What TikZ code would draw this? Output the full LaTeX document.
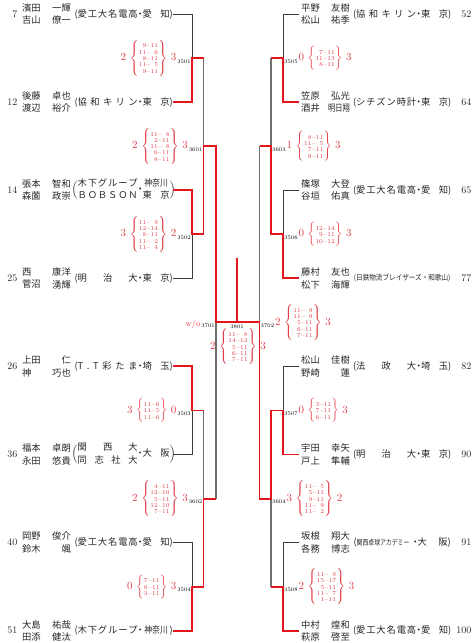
\documentclass[tikz,border=0pt]{standalone}
\usepackage{fontspec}
\usepackage{graphicx}
\newfontfamily\jp{Noto Sans CJK JP}
\definecolor{lnred}{RGB}{228,22,28}
\definecolor{txred}{RGB}{226,60,70}
\definecolor{lngray}{RGB}{110,110,110}
\definecolor{lndark}{RGB}{60,60,60}
\def\spreadloop#1{\ifx\relax#1\else#1\expandafter\spreadsep\fi}
\def\spreadsep#1{\ifx\relax#1\else\hfill#1\expandafter\spreadsep\fi}
\newcommand\spread[2]{\makebox[#1]{\spreadloop#2\relax}}
\newcommand\aff[2]{\makebox[99pt]{(\spread{60pt}{#1}\makebox[5pt]{・}\spread{27pt}{#2})}}
\newcommand\affK[2]{\makebox[99pt]{(\spread{60pt}{#1}\makebox[5pt]{・}\makebox[27pt]{\scalebox{0.85}[1]{#2}})}}
\newcommand\affTwo[4]{\makebox[99pt]{$\Big($\begin{tabular}{@{}l@{}}\spread{60pt}{#1}\\\spread{60pt}{#2}\end{tabular}\makebox[5pt]{・}\begin{tabular}{@{}l@{}}#3\\#4\end{tabular}$\Big)$}}
\newcommand\affTwoB[3]{\makebox[99pt]{$\Big($\begin{tabular}{@{}l@{}}\spread{60pt}{#1}\\\spread{60pt}{#2}\end{tabular}\makebox[5pt]{・}\spread{27pt}{#3}$\Big)$}}
\newcommand\scol[1]{\mbox{\fontsize{6}{6.3}\selectfont\begin{tabular}{@{}r@{\kern.4pt--\kern.4pt}r@{}}#1\end{tabular}}}
\newcommand\mnum[1]{{\fontsize{5.5}{6}\selectfont\color{black}#1}}
\newcommand\scoreblk[3]{$#1\kern1.8pt\left\{\kern.3pt\scol{#2}\kern.3pt\right\}\kern1.8pt#3$}
\newcommand\mL[4]{\scoreblk{#1}{#2}{#3}\kern1pt\raisebox{-2.5pt}{\mnum{#4}}}
\newcommand\mR[4]{\raisebox{-2.5pt}{\mnum{#4}}\kern1pt\scoreblk{#1}{#2}{#3}}
\newcommand\entL[5]{%
 \node[numtxt,anchor=east] (n#1) at (17.5,#2) {#1};
 \node[nametxt,anchor=west,align=left] (s#1) at (22,#2) {#3};
 \node[nametxt,anchor=east,align=right] (g#1) at (71,#2) {#4};
 \node[nametxt,anchor=west] (a#1) at (74,#2) {#5};}
\newcommand\entR[5]{%
 \node[nametxt,anchor=west,align=left] (s#1) at (301,#2) {#3};
 \node[nametxt,anchor=east,align=right] (g#1) at (350,#2) {#4};
 \node[nametxt,anchor=west] (a#1) at (352.5,#2) {#5};
 \node[numtxt,anchor=east] (n#1) at (471.5,#2) {#1};}
\begin{document}
\begin{tikzpicture}[x=1pt,y=-1pt,
 nametxt/.style={font=\jp\fontsize{9.3}{12.4}\selectfont,inner sep=0pt,text=black!85},
 numtxt/.style={font=\fontsize{10}{12}\selectfont,inner sep=0pt,text=black!85},
 mlab/.style={font=\fontsize{11}{12}\selectfont,inner sep=0pt,text=txred},
 redline/.style={draw=lnred,line width=1.9pt},
 gthin/.style={draw=lndark,line width=0.9pt},
 gthick/.style={draw=lngray,line width=1.4pt}]
\useasboundingbox (0,0) rectangle (476,643);
% junction coordinates
\coordinate (J3501) at (192,58.05);   \coordinate (K3501) at (203.5,58.05);
\coordinate (J3502) at (192,234.25);  \coordinate (K3502) at (203.5,234.25);
\coordinate (J3503) at (192,410.45);  \coordinate (K3503) at (203.5,410.45);
\coordinate (J3504) at (192,586.65);  \coordinate (K3504) at (203.5,586.65);
\coordinate (J3601) at (203.5,146.15); \coordinate (K3601) at (216,146.15);
\coordinate (J3602) at (203.5,498.55); \coordinate (K3602) at (216,498.55);
\coordinate (J3701) at (216,322.35);
\coordinate (F) at (237,322.35);
\coordinate (Top) at (237,258);
\coordinate (J3702) at (259.5,322.35);
\coordinate (J3505) at (283,58.05);   \coordinate (K3505) at (271,58.05);
\coordinate (J3506) at (283,234.25);  \coordinate (K3506) at (271,234.25);
\coordinate (J3507) at (283,410.45);  \coordinate (K3507) at (271,410.45);
\coordinate (J3508) at (283,586.65);  \coordinate (K3508) at (271,586.65);
\coordinate (J3603) at (271,146.15);  \coordinate (K3603) at (259.5,146.15);
\coordinate (J3604) at (271,498.55);  \coordinate (K3604) at (259.5,498.55);
% left entries
\entL{7}{14}{濱田\\吉山}{一輝\\僚一}{\aff{愛工大名電高}{愛知}}
\entL{12}{102.1}{後藤\\渡辺}{卓也\\裕介}{\aff{協和キリン}{東京}}
\entL{14}{190.2}{張本\\森薗}{智和\\政崇}{\affTwo{木下グループ}{ＢＯＢＳＯＮ}{\makebox[27pt]{\scalebox{0.85}[1]{神奈川}}}{\spread{27pt}{東京}}}
\entL{25}{278.3}{西\\菅沼}{康洋\\湧輝}{\aff{明治大}{東京}}
\entL{26}{366.4}{上田\\神}{仁\\巧也}{\aff{T.T彩たま}{埼玉}}
\entL{36}{454.5}{福本\\永田}{卓朗\\悠貴}{\affTwoB{関西大}{同志社大}{大阪}}
\entL{40}{542.6}{岡野\\鈴木}{俊介\\颯}{\aff{愛工大名電高}{愛知}}
\entL{51}{630.7}{大島\\田添}{祐哉\\健汰}{\affK{木下グループ}{神奈川}}
% right entries
\entR{52}{14}{平野\\松山}{友樹\\祐季}{\aff{協和キリン}{東京}}
\entR{64}{102.1}{笠原\\酒井}{弘光\\\scalebox{0.78}[1]{明日翔}}{\aff{シチズン時計}{東京}}
\entR{65}{190.2}{篠塚\\谷垣}{大登\\佑真}{\aff{愛工大名電高}{愛知}}
\entR{77}{278.3}{藤村\\松下}{友也\\海輝}{\makebox[99pt]{\fontsize{7.5}{8}\selectfont\scalebox{0.88}[1]{(日鉄物流ブレイザーズ・和歌山)}}}
\entR{82}{366.4}{松山\\野崎}{佳樹\\蓮}{\aff{法政大}{埼玉}}
\entR{90}{454.5}{宇田\\戸上}{幸矢\\隼輔}{\aff{明治大}{東京}}
\entR{91}{542.6}{坂根\\各務}{翔大\\博志}{\makebox[99pt]{(\makebox[56pt][l]{\fontsize{7.5}{8}\selectfont\scalebox{0.78}[1]{関西卓球アカデミー}}\makebox[5pt]{・}\spread{30pt}{大阪})}}
\entR{100}{630.7}{中村\\萩原}{煌和\\啓至}{\aff{愛工大名電高}{愛知}}
% grey lines
\draw[gthin] (a7.east) -| (J3501);
\draw[gthin] (a25.east) -| (J3502);
\draw[gthin] (a36.east) -| (J3503);
\draw[gthin] (a40.east) -| (J3504);
\draw[gthick] (K3501) -- (J3601);
\draw[gthick] (K3503) -- (J3602);
\draw[gthick] (K3602) -- (J3701);
\draw[gthin] ([xshift=-2pt]s52.west) -| (J3505);
\draw[gthin] ([xshift=-2pt]s65.west) -| (J3506);
\draw[gthin] ([xshift=-2pt]s82.west) -| (J3507);
\draw[gthin] ([xshift=-2pt]s91.west) -| (J3508);
\draw[gthick] (K3505) -- (J3603);
\draw[gthick] (K3603) -- (J3702);
\draw[gthick] (J3604) -- (K3508);
% red lines
\draw[redline] (a12.east) -| (J3501) -- (K3501);
\draw[redline] (a14.east) -| (J3502) -- (K3502) -- (J3601) -- (K3601) -- (J3701) -- (F);
\draw[redline] (a26.east) -| (J3503) -- (K3503);
\draw[redline] (a51.east) -| (J3504) -- (K3504) -- (J3602) -- (K3602);
\draw[redline] ([xshift=-2pt]s64.west) -| (J3505) -- (K3505);
\draw[redline] ([xshift=-2pt]s77.west) -| (J3506) -- (K3506) -- (J3603) -- (K3603);
\draw[redline] ([xshift=-2pt]s90.west) -| (J3507) -- (K3507) -- (J3604) -- (K3604) -- (J3702) -- (F) -- (Top);
\draw[redline] ([xshift=-2pt]s100.west) -| (J3508) -- (K3508);
% match labels left
\node[mlab,anchor=east] (m3501) at (191,58.05) {\mL{2}{9&11\\11&6\\8&11\\11&5\\9&11}{3}{3501}};
\node[mlab,anchor=east] (m3502) at (191,234.25) {\mL{3}{11&9\\12&14\\8&11\\11&2\\11&4}{2}{3502}};
\node[mlab,anchor=east] (m3503) at (191,410.45) {\mL{3}{11&6\\11&5\\11&6}{0}{3503}};
\node[mlab,anchor=east] (m3504) at (191,586.65) {\mL{0}{7&11\\8&11\\3&11}{3}{3504}};
\node[mlab,anchor=east] (m3601) at (202.5,146.15) {\mL{2}{11&8\\2&11\\11&8\\6&11\\8&11}{3}{3601}};
\node[mlab,anchor=east] (m3602) at (202.5,498.55) {\mL{2}{4&11\\12&10\\5&11\\12&10\\7&11}{3}{3602}};
\node[mlab,anchor=east,font=\fontsize{8}{9}\selectfont] (m3701) at (215,324) {w/o\kern1pt\raisebox{-1pt}{\mnum{3701}}};
% match labels right
\node[mlab,anchor=west] (m3505) at (284,58.05) {\mR{0}{7&11\\11&13\\8&11}{3}{3505}};
\node[mlab,anchor=west] (m3506) at (284,234.25) {\mR{0}{12&14\\9&11\\10&12}{3}{3506}};
\node[mlab,anchor=west] (m3507) at (284,410.45) {\mR{0}{3&11\\7&11\\6&11}{3}{3507}};
\node[mlab,anchor=west] (m3508) at (284,586.65) {\mR{2}{11&9\\15&17\\5&11\\11&7\\1&11}{3}{3508}};
\node[mlab,anchor=west] (m3603) at (272,146.15) {\mR{1}{8&11\\11&5\\7&11\\9&11}{3}{3603}};
\node[mlab,anchor=west] (m3604) at (272,498.55) {\mR{3}{11&5\\5&11\\9&11\\11&9\\11&2}{2}{3604}};
\node[mlab,anchor=west] (m3702) at (260.5,322.35) {\mR{2}{11&9\\11&9\\5&11\\6&11\\7&11}{3}{3702}};
% final
\node[inner sep=0pt] (m3801) at (237,326.6) {\mnum{3801}};
\node[mlab] (s3801) at (238,346.5) {\scoreblk{2}{11&8\\14&12\\5&11\\6&11\\7&11}{3}};
\end{tikzpicture}
\end{document}
